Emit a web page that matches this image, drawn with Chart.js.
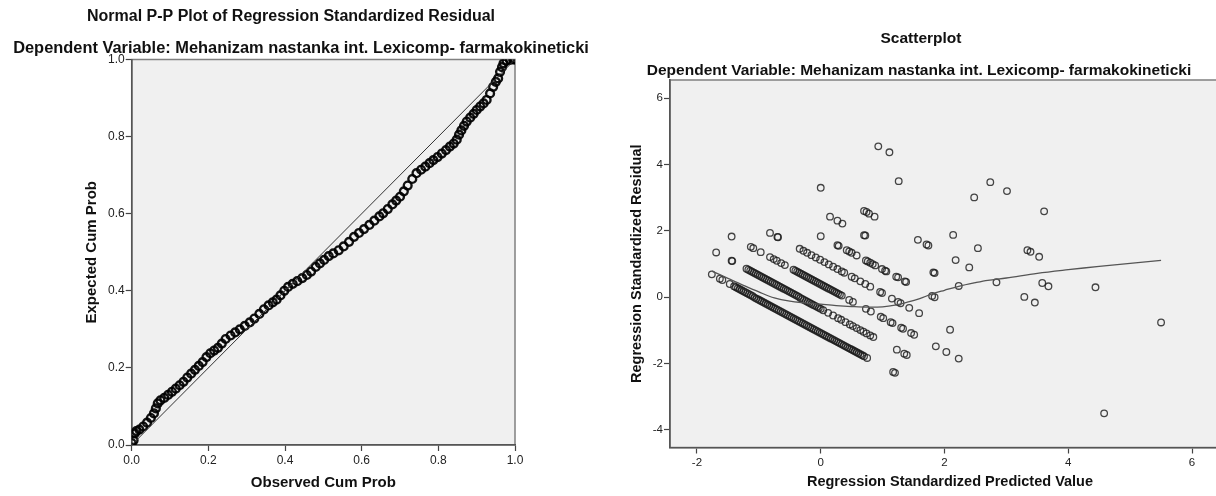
<!DOCTYPE html>
<html>
<head>
<meta charset="utf-8">
<script src="https://cdn.jsdelivr.net/npm/chart.js@4.4.1/dist/chart.umd.min.js"></script>
<style>
  html, body { margin: 0; padding: 0; background: #fff; overflow: hidden; }
  #wrap { position: relative; width: 1216px; height: 496px; overflow: hidden; }
  canvas { position: absolute; top: 0; }
  #pp { left: 0; }
  #scatter { left: 600px; }
</style>
</head>
<body>
<div id="wrap">
  <canvas id="pp" width="600" height="496"></canvas>
  <canvas id="scatter" width="640" height="496"></canvas>
</div>
<script>
// ---- Normal P-P plot ----
const ppObserved = [
  0.000,0.005,0.008,0.012,0.020,0.030,0.040,0.050,0.058,0.063,
  0.068,0.075,0.085,0.095,0.105,0.115,0.125,0.135,0.145,0.155,
  0.165,0.175,0.185,0.195,0.205,0.215,0.225,0.235,0.245,0.258,
  0.270,0.282,0.295,0.308,0.320,0.333,0.345,0.357,0.368,0.378,
  0.388,0.398,0.408,0.420,0.432,0.445,0.457,0.468,0.480,0.491,
  0.502,0.514,0.526,0.540,0.553,0.567,0.580,0.593,0.606,0.620,
  0.633,0.646,0.656,0.668,0.680,0.690,0.700,0.710,0.720,0.732,
  0.743,0.755,0.766,0.777,0.787,0.798,0.809,0.820,0.830,0.840,
  0.848,0.854,0.860,0.867,0.874,0.883,0.892,0.900,0.909,0.918,
  0.926,0.935,0.943,0.950,0.956,0.961,0.966,0.970,0.978,0.987,
  0.995,1.000
];
const ppExpected = [
  0.005,0.012,0.030,0.036,0.040,0.048,0.058,0.070,0.082,0.095,
  0.108,0.116,0.122,0.130,0.138,0.146,0.155,0.164,0.175,0.185,
  0.195,0.205,0.215,0.228,0.238,0.245,0.252,0.263,0.275,0.284,
  0.292,0.300,0.309,0.318,0.328,0.340,0.352,0.362,0.370,0.377,
  0.388,0.400,0.410,0.418,0.425,0.433,0.441,0.450,0.462,0.471,
  0.480,0.490,0.497,0.505,0.515,0.527,0.540,0.550,0.560,0.571,
  0.582,0.593,0.601,0.612,0.624,0.634,0.644,0.658,0.673,0.690,
  0.705,0.714,0.722,0.731,0.739,0.747,0.756,0.765,0.774,0.782,
  0.792,0.805,0.816,0.828,0.839,0.849,0.859,0.869,0.878,0.886,
  0.895,0.912,0.929,0.942,0.951,0.968,0.980,0.990,0.997,0.999,
  1.000,1.000
];
const ppDiagonal = [[0, 0], [1, 1]];
const ppTicks = [0, 0.2, 0.4, 0.6, 0.8, 1.0];

// ---- Scatterplot: [standardized predicted, standardized residual] ----
const residualPoints = [
  [-1.76,0.69],[-1.63,0.56],[-1.59,0.52],[-1.47,0.40],[-1.40,0.33],[-1.34,0.27],[-1.28,0.21],[-1.22,0.15],
  [-1.16,0.09],[-1.10,0.03],[-1.04,-0.04],[-0.98,-0.10],[-0.92,-0.16],[-0.86,-0.22],[-0.80,-0.28],[-0.74,-0.34],
  [-0.68,-0.40],[-0.62,-0.46],[-0.56,-0.52],[-0.50,-0.58],[-0.44,-0.64],[-0.38,-0.70],[-0.32,-0.76],[-0.26,-0.82],
  [-0.20,-0.88],[-0.14,-0.94],[-0.08,-1.00],[-0.02,-1.06],[0.04,-1.12],[0.10,-1.18],[0.16,-1.24],[0.22,-1.30],
  [0.28,-1.36],[0.34,-1.42],[0.40,-1.48],[0.46,-1.54],[0.52,-1.60],[0.58,-1.66],[0.64,-1.72],[0.70,-1.78],
  [0.75,-1.83],[1.17,-2.25],[1.20,-2.28],
  [-1.37,0.30],[-1.31,0.24],[-1.25,0.18],[-1.19,0.12],[-1.13,0.06],[-1.07,-0.01],[-1.01,-0.07],[-0.95,-0.13],
  [-0.89,-0.19],[-0.83,-0.25],[-0.77,-0.31],[-0.71,-0.37],[-0.65,-0.43],[-0.59,-0.49],[-0.53,-0.55],[-0.47,-0.61],
  [-0.41,-0.67],[-0.35,-0.73],[-0.29,-0.79],[-0.23,-0.85],[-0.17,-0.91],[-0.11,-0.97],[-0.05,-1.03],[0.01,-1.09],
  [0.07,-1.15],[0.13,-1.21],[0.19,-1.27],[0.25,-1.33],[0.31,-1.39],[0.37,-1.45],[0.43,-1.51],[0.49,-1.57],
  [0.55,-1.63],[0.61,-1.69],[0.67,-1.75],

  [-1.69,1.35],[-1.44,1.10],[-1.43,1.09],[-1.20,0.86],[-1.14,0.80],[-1.08,0.74],[-1.02,0.68],[-0.96,0.62],
  [-0.90,0.56],[-0.84,0.50],[-0.78,0.44],[-0.72,0.38],[-0.66,0.32],[-0.60,0.26],[-0.54,0.20],[-0.48,0.14],
  [-0.42,0.08],[-0.36,0.02],[-0.30,-0.05],[-0.24,-0.11],[-0.18,-0.17],[-0.12,-0.23],[-0.06,-0.29],[0.00,-0.35],
  [0.04,-0.39],[0.12,-0.47],[0.20,-0.55],[0.28,-0.63],[0.33,-0.68],[0.40,-0.75],[0.47,-0.82],[0.52,-0.87],
  [0.58,-0.93],[0.64,-0.99],[0.69,-1.04],[0.74,-1.09],[0.80,-1.15],[0.85,-1.20],[1.23,-1.58],[1.35,-1.70],
  [1.39,-1.74],
  [-1.17,0.83],[-1.11,0.77],[-1.05,0.71],[-0.99,0.65],[-0.93,0.59],[-0.87,0.53],[-0.81,0.47],[-0.75,0.41],
  [-0.69,0.35],[-0.63,0.29],[-0.57,0.23],[-0.51,0.17],[-0.45,0.11],[-0.39,0.05],[-0.33,-0.02],[-0.27,-0.08],
  [-0.21,-0.14],[-0.15,-0.20],[-0.09,-0.26],[-0.03,-0.32],

  [-1.44,1.83],[-1.13,1.52],[-1.09,1.48],[-0.97,1.36],[-0.82,1.21],[-0.76,1.15],[-0.71,1.10],[-0.64,1.03],
  [-0.58,0.97],[-0.44,0.83],[-0.38,0.77],[-0.32,0.71],[-0.26,0.65],[-0.20,0.59],[-0.14,0.53],[-0.08,0.47],
  [-0.02,0.41],[0.04,0.35],[0.10,0.29],[0.16,0.23],[0.22,0.17],[0.28,0.11],[0.34,0.05],[0.46,-0.08],
  [0.52,-0.14],[0.73,-0.35],[0.81,-0.43],[0.97,-0.59],[1.01,-0.63],[1.13,-0.75],[1.16,-0.78],[1.30,-0.92],
  [1.33,-0.95],[1.46,-1.08],[1.51,-1.13],[1.86,-1.48],[2.03,-1.65],[2.23,-1.85],
  [-0.41,0.80],[-0.35,0.74],[-0.29,0.68],[-0.23,0.62],[-0.17,0.56],[-0.11,0.50],[-0.05,0.44],[0.01,0.38],
  [0.07,0.32],[0.13,0.26],[0.19,0.20],[0.25,0.14],[0.31,0.08],

  [-0.82,1.94],[-0.70,1.82],[-0.69,1.81],[-0.34,1.46],[-0.28,1.40],[-0.22,1.34],[-0.15,1.27],[-0.08,1.20],
  [-0.01,1.13],[0.06,1.06],[0.13,0.99],[0.20,0.92],[0.27,0.85],[0.34,0.78],[0.38,0.74],[0.50,0.62],
  [0.55,0.57],[0.64,0.48],[0.72,0.40],[0.80,0.32],[0.96,0.16],[0.99,0.13],[1.15,-0.04],[1.25,-0.14],
  [1.29,-0.18],[1.43,-0.32],[1.59,-0.48],[2.09,-0.98],[4.58,-3.50],

  [0.00,1.84],[0.27,1.57],[0.29,1.55],[0.42,1.42],[0.46,1.38],[0.50,1.34],[0.58,1.26],[0.73,1.11],
  [0.76,1.08],[0.80,1.04],[0.84,1.00],[0.88,0.96],[0.99,0.85],[1.04,0.80],[1.06,0.78],[1.22,0.62],
  [1.25,0.60],[1.36,0.48],[1.38,0.46],[1.80,0.04],[1.84,0.00],

  [0.15,2.43],[0.27,2.31],[0.35,2.22],[0.70,1.87],[0.72,1.86],[1.82,0.75],[1.84,0.73],[2.23,0.34],
  [0.00,3.30],[0.70,2.60],[0.74,2.57],[0.78,2.52],[0.87,2.43],[1.57,1.73],[1.71,1.59],[1.74,1.56],
  [2.18,1.12],[2.40,0.90],[2.84,0.45],[3.29,0.01],[3.46,-0.16],
  [2.14,1.88],[2.54,1.48],[3.58,0.43],[3.68,0.33],
  [1.26,3.50],[3.34,1.42],[3.39,1.37],[3.53,1.22],[4.44,0.30],[5.50,-0.76],
  [0.93,4.55],[1.11,4.37],[2.48,3.01],
  [2.74,3.47],[3.01,3.20],[3.61,2.59]
];
const loessCurve = [
  [-1.76,0.79],[-1.5,0.57],[-1.25,0.36],[-1.0,0.16],[-0.75,-0.02],[-0.5,-0.12],[-0.25,-0.17],
  [0.0,-0.21],[0.25,-0.25],[0.5,-0.28],[0.75,-0.30],[1.0,-0.29],[1.2,-0.24],[1.4,-0.15],
  [1.6,-0.04],[1.8,0.10],[2.0,0.21],[2.23,0.33],[2.5,0.44],[2.7,0.51],[3.0,0.58],[3.5,0.72],
  [4.0,0.83],[4.5,0.93],[5.0,1.02],[5.5,1.11]
];
const predTicks = [-2, 0, 2, 4, 6];
const residTicks = [-4, -2, 0, 2, 4, 6];

const FONT = "Arial, 'Liberation Sans', sans-serif";
const toXY = pairs => pairs.map(p => ({ x: p[0], y: p[1] }));

// plot background, frame and the two title lines above each panel
const panelPlugin = {
  id: 'panel',
  beforeDraw(chart) {
    const { ctx, chartArea: a } = chart;
    ctx.save();
    ctx.fillStyle = '#f0f0f0';
    ctx.fillRect(a.left, a.top, a.right - a.left, a.bottom - a.top);
    ctx.strokeStyle = '#808080';
    ctx.lineWidth = 1.5;
    ctx.strokeRect(a.left, a.top, a.right - a.left, a.bottom - a.top);
    ctx.restore();
  },
  afterDraw(chart, args, opts) {
    const ctx = chart.ctx;
    ctx.save();
    ctx.fillStyle = '#111';
    ctx.textAlign = 'center';
    ctx.textBaseline = 'middle';
    (opts.lines || []).forEach(l => {
      ctx.font = 'bold ' + l.size + 'px ' + FONT;
      ctx.fillText(l.text, l.x, l.y);
    });
    ctx.restore();
  }
};

function axis(cfg) {
  return {
    type: 'linear',
    min: cfg.min,
    max: cfg.max,
    afterBuildTicks: s => { s.ticks = cfg.ticks.map(v => ({ value: v })); },
    afterFit: s => { if (cfg.width) s.width = cfg.width; if (cfg.height) s.height = cfg.height; },
    grid: { drawOnChartArea: false, drawTicks: true, tickLength: 6, tickWidth: 1.2, color: '#444' },
    border: { display: true, color: '#555', width: 1.6 },
    ticks: {
      font: { family: FONT, size: cfg.tickSize },
      color: '#222',
      padding: cfg.tickPad,
      maxRotation: 0,
      callback: cfg.format
    },
    title: {
      display: true,
      text: cfg.title,
      color: '#111',
      font: { family: FONT, size: cfg.titleSize, weight: 'bold' },
      padding: { top: cfg.titlePad, bottom: cfg.titlePad }
    }
  };
}

new Chart(document.getElementById('pp'), {
  type: 'scatter',
  data: {
    datasets: [
      {
        data: toXY(ppDiagonal),
        showLine: true,
        borderColor: '#333',
        borderWidth: 1,
        pointRadius: 0
      },
      {
        data: ppObserved.map((v, i) => ({ x: v, y: ppExpected[i] })),
        pointRadius: 3.9,
        pointBorderWidth: 2.4,
        borderColor: 'rgba(0,0,0,0.92)',
        backgroundColor: 'rgba(0,0,0,0)'
      }
    ]
  },
  options: {
    responsive: false,
    animation: false,
    devicePixelRatio: 1,
    layout: { padding: { left: 80, right: 85, top: 59.5, bottom: 0 } },
    scales: {
      x: axis({ min: 0, max: 1, ticks: ppTicks, height: 51, tickSize: 12, tickPad: 2,
        format: v => v.toFixed(1), title: 'Observed Cum Prob', titleSize: 15, titlePad: 4.6 }),
      y: axis({ min: 0, max: 1, ticks: ppTicks, width: 51.7, tickSize: 12, tickPad: 1,
        format: v => v.toFixed(1), title: 'Expected Cum Prob', titleSize: 15, titlePad: 3.2 })
    },
    plugins: {
      legend: { display: false },
      tooltip: { enabled: false },
      panel: {
        lines: [
          { text: 'Normal P-P Plot of Regression Standardized Residual', x: 291, y: 17, size: 16 },
          { text: 'Dependent Variable: Mehanizam nastanka int. Lexicomp- farmakokineticki', x: 301, y: 48, size: 16.4 }
        ]
      }
    }
  },
  plugins: [panelPlugin]
});

new Chart(document.getElementById('scatter'), {
  type: 'scatter',
  data: {
    datasets: [
      {
        data: toXY(loessCurve),
        showLine: true,
        tension: 0.35,
        borderColor: '#555',
        borderWidth: 1.3,
        pointRadius: 0
      },
      {
        data: toXY(residualPoints),
        pointRadius: 3.3,
        pointBorderWidth: 1.3,
        borderColor: 'rgba(25,25,25,0.8)',
        backgroundColor: 'rgba(0,0,0,0)'
      }
    ]
  },
  options: {
    responsive: false,
    animation: false,
    devicePixelRatio: 1,
    layout: { padding: { left: 24, right: 10, top: 80, bottom: 0 } },
    scales: {
      x: axis({ min: -2.436, max: 6.614, ticks: predTicks, height: 48.5, tickSize: 11.5, tickPad: 2,
        format: v => String(v), title: 'Regression Standardized Predicted Value', titleSize: 14.5, titlePad: 5.2 }),
      y: axis({ min: -4.53, max: 6.55, ticks: residTicks, width: 46, tickSize: 11.5, tickPad: 1,
        format: v => String(v), title: 'Regression Standardized Residual', titleSize: 14.5, titlePad: 3.8 })
    },
    plugins: {
      legend: { display: false },
      tooltip: { enabled: false },
      panel: {
        lines: [
          { text: 'Scatterplot', x: 321, y: 39, size: 15.5 },
          { text: 'Dependent Variable: Mehanizam nastanka int. Lexicomp- farmakokineticki', x: 319, y: 71, size: 15.5 }
        ]
      }
    }
  },
  plugins: [panelPlugin]
});
</script>
</body>
</html>
